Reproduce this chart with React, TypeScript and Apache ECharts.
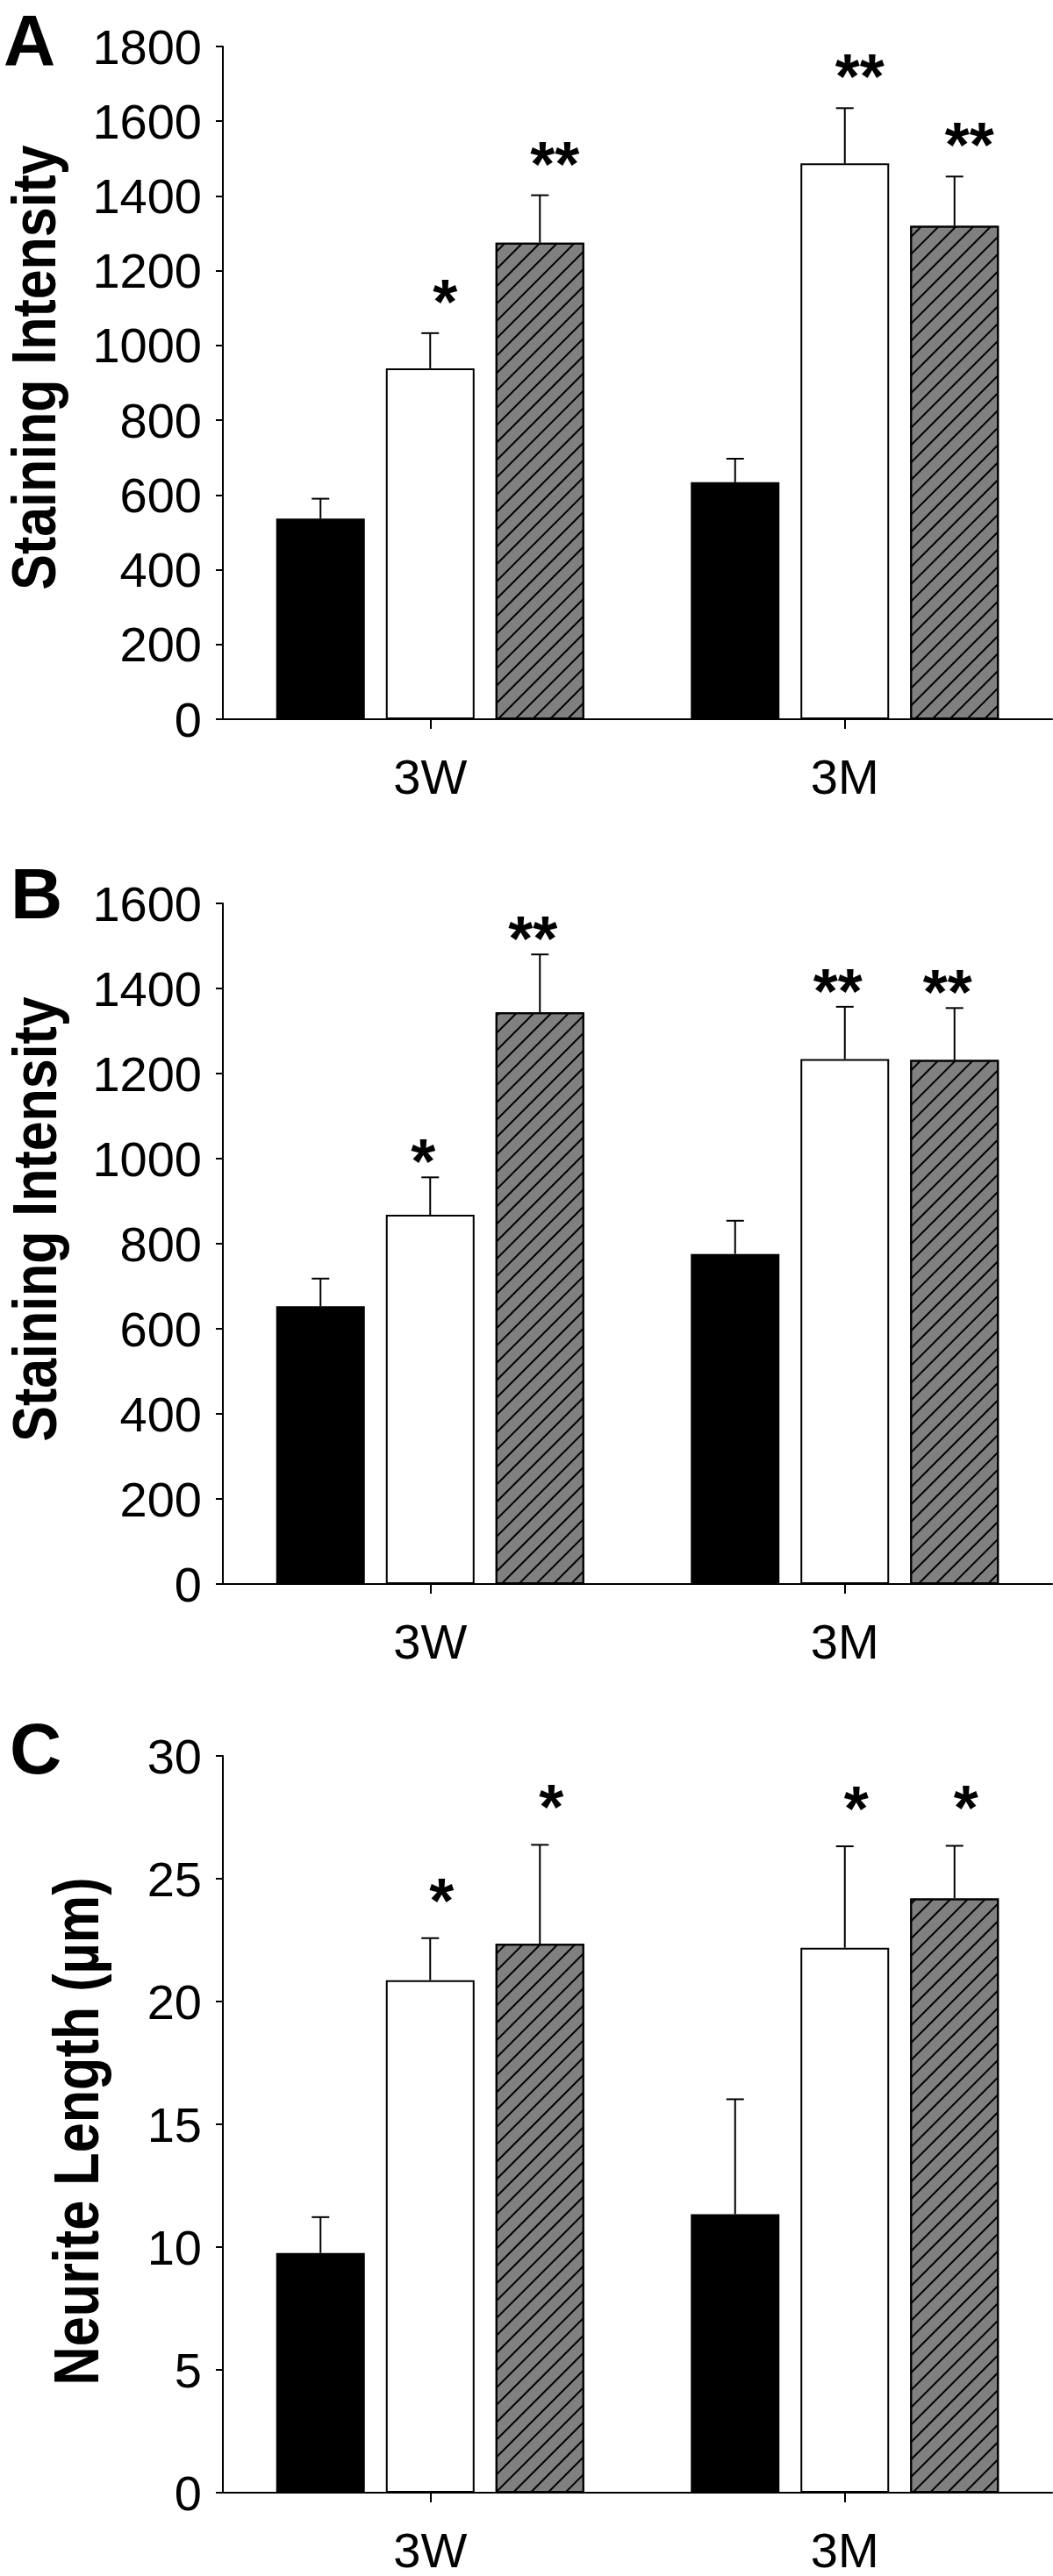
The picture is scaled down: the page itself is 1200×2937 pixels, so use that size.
import React, { useEffect, useRef } from 'react';
import * as echarts from 'echarts';

const categories = ['3W', '3M'];

// Panel A – Staining Intensity
const aBlack = [537, 634];
const aBlackErr = [53, 63];
const aWhite = [939, 1487];
const aWhiteErr = [94, 148];
const aHatch = [1275, 1320];
const aHatchErr = [127, 132];
const aBlackStars = ['', ''];
const aWhiteStars = ['*', '**'];
const aHatchStars = ['**', '**'];

// Panel B – Staining Intensity
const bBlack = [653, 776];
const bBlackErr = [65, 78];
const bWhite = [868, 1234];
const bWhiteErr = [88, 123];
const bHatch = [1344, 1232];
const bHatchErr = [136, 122];
const bBlackStars = ['', ''];
const bWhiteStars = ['*', '**'];
const bHatchStars = ['**', '**'];

// Panel C – Neurite Length (µm)
const cBlack = [9.76, 11.34];
const cBlackErr = [1.46, 4.68];
const cWhite = [20.87, 22.19];
const cWhiteErr = [1.71, 4.13];
const cHatch = [22.35, 24.2];
const cHatchErr = [4.03, 2.14];
const cBlackStars = ['', ''];
const cWhiteStars = ['*', '*'];
const cHatchStars = ['*', '*'];

const FONT = "'Liberation Sans', Arial, Helvetica, sans-serif";
const BAR_W = 101;
const BAR_GAP = 24;
const BAR_STEP = BAR_W + BAR_GAP;

type Panel = {
  top: number;
  height: number;
  max: number;
  interval: number;
  black: number[];
  blackErr: number[];
  white: number[];
  whiteErr: number[];
  hatch: number[];
  hatchErr: number[];
  stars: string[][];
  starDx: number;
  starGap: number;
};

const panels: Panel[] = [
  {
    top: 53, height: 767, max: 1800, interval: 200,
    black: aBlack, blackErr: aBlackErr, white: aWhite, whiteErr: aWhiteErr, hatch: aHatch, hatchErr: aHatchErr,
    stars: [aBlackStars, aWhiteStars, aHatchStars], starDx: 17, starGap: 51,
  },
  {
    top: 1030, height: 776, max: 1600, interval: 200,
    black: bBlack, blackErr: bBlackErr, white: bWhite, whiteErr: bWhiteErr, hatch: bHatch, hatchErr: bHatchErr,
    stars: [bBlackStars, bWhiteStars, bHatchStars], starDx: -8, starGap: 33,
  },
  {
    top: 2002, height: 840, max: 30, interval: 5,
    black: cBlack, blackErr: cBlackErr, white: cWhite, whiteErr: cWhiteErr, hatch: cHatch, hatchErr: cHatchErr,
    stars: [cBlackStars, cWhiteStars, cHatchStars], starDx: 13, starGap: 58,
  },
];

function buildOption() {
  const grid: any[] = [];
  const xAxis: any[] = [];
  const yAxis: any[] = [];
  const series: any[] = [];

  panels.forEach((p, i) => {
    grid.push({ left: 254, width: 945, top: p.top, height: p.height, containLabel: false });
    xAxis.push({
      type: 'category',
      gridIndex: i,
      data: categories,
      axisLine: { show: true, lineStyle: { color: '#000', width: 2 } },
      axisTick: { show: true, alignWithLabel: true, length: 11, lineStyle: { color: '#000', width: 2 } },
      axisLabel: { interval: 0, color: '#000', fontSize: 56, fontFamily: FONT, margin: 37 },
      splitLine: { show: false },
    });
    yAxis.push({
      type: 'value',
      gridIndex: i,
      min: 0,
      max: p.max,
      interval: p.interval,
      axisLine: { show: true, lineStyle: { color: '#000', width: 2 } },
      axisTick: { show: true, length: 8, lineStyle: { color: '#000', width: 2 } },
      axisLabel: {
        color: '#000', fontSize: 56, fontFamily: FONT, margin: 24,
        formatter: (v: number) => String(v),
      },
      splitLine: { show: false },
    });

    const groups = [
      { vals: p.black, errs: p.blackErr, color: '#000000', decal: null as any },
      { vals: p.white, errs: p.whiteErr, color: '#ffffff', decal: null as any },
      {
        vals: p.hatch, errs: p.hatchErr, color: '#808080',
        decal: {
          symbol: 'rect', symbolSize: 1, color: '#000000',
          dashArrayX: [1, 0], dashArrayY: [2, 12], rotation: -Math.PI / 4,
        },
      },
    ];

    groups.forEach((g) => {
      const itemStyle: any = { color: g.color, borderColor: '#000', borderWidth: 2 };
      if (g.decal) itemStyle.decal = g.decal;
      series.push({
        type: 'bar',
        xAxisIndex: i,
        yAxisIndex: i,
        data: g.vals,
        barWidth: BAR_W,
        barGap: (BAR_GAP / BAR_W * 100).toFixed(2) + '%',
        itemStyle,
        emphasis: { disabled: true },
        z: 2,
      });
    });

    const errData: any[] = [];
    groups.forEach((g, k) => {
      g.vals.forEach((v, c) => {
        errData.push([c, v, g.errs[c], k, p.stars[k][c]]);
      });
    });

    series.push({
      type: 'custom',
      xAxisIndex: i,
      yAxisIndex: i,
      data: errData,
      clip: false,
      z: 5,
      renderItem: (params: any, api: any) => {
        const d = errData[params.dataIndex];
        const cat = d[0];
        const mean = d[1];
        const err = d[2];
        const k = d[3];
        const star = d[4];
        const base = api.coord([cat, mean]);
        const top = api.coord([cat, mean + err]);
        const x = base[0] + (k - 1) * BAR_STEP;
        const children: any[] = [
          {
            type: 'line',
            shape: { x1: x, y1: base[1], x2: x, y2: top[1] },
            style: { stroke: '#000', lineWidth: 2 },
          },
          {
            type: 'line',
            shape: { x1: x - 10, y1: top[1], x2: x + 10, y2: top[1] },
            style: { stroke: '#000', lineWidth: 2 },
          },
        ];
        if (star) {
          children.push({
            type: 'text',
            x: x + p.starDx,
            y: top[1] - p.starGap + 15,
            style: {
              text: star,
              fill: '#000',
              font: `bold 72px ${FONT}`,
              textAlign: 'center',
              textVerticalAlign: 'middle',
            },
          });
        }
        return { type: 'group', children };
      },
    });
  });

  const labelStyle = (text: string, size: number) => ({
    text,
    fill: '#000',
    font: `bold ${size}px ${FONT}`,
    textAlign: 'center',
    textVerticalAlign: 'middle',
  });

  const graphic: any[] = [
    { type: 'text', x: 4, y: 45, style: { text: 'A', fill: '#000', font: `bold 82px ${FONT}`, textAlign: 'left', textVerticalAlign: 'middle' } },
    { type: 'text', x: 12, y: 1018, style: { text: 'B', fill: '#000', font: `bold 82px ${FONT}`, textAlign: 'left', textVerticalAlign: 'middle' } },
    { type: 'text', x: 11, y: 1993, style: { text: 'C', fill: '#000', font: `bold 82px ${FONT}`, textAlign: 'left', textVerticalAlign: 'middle' } },
    { type: 'text', x: 39, y: 419, rotation: Math.PI / 2, scaleX: 0.87, style: labelStyle('Staining Intensity', 70) },
    { type: 'text', x: 40, y: 1390, rotation: Math.PI / 2, scaleX: 0.87, style: labelStyle('Staining Intensity', 70) },
    { type: 'text', x: 87, y: 2430, rotation: Math.PI / 2, scaleX: 0.85, style: labelStyle('Neurite Length (µm)', 72) },
  ];

  return {
    animation: false,
    backgroundColor: '#ffffff',
    grid,
    xAxis,
    yAxis,
    series,
    graphic,
  };
}

export default function App() {
  const ref = useRef<HTMLDivElement>(null);
  useEffect(() => {
    if (!ref.current) return;
    const chart = echarts.init(ref.current, null, { renderer: 'svg' });
    chart.setOption(buildOption() as any);
    return () => chart.dispose();
  }, []);
  return (
    <div
      ref={ref}
      style={{ position: 'absolute', left: 0, top: 0, width: 1200, height: 2937, background: '#fff' }}
    />
  );
}
